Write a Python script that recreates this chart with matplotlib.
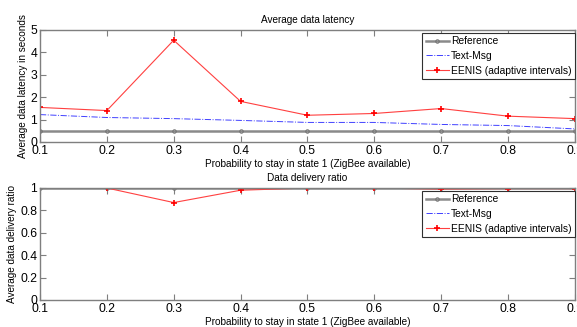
import matplotlib
matplotlib.use("Agg")
import matplotlib.pyplot as plt

plt.rcParams["font.family"] = ["Liberation Sans", "DejaVu Sans"]

prob = [0.1, 0.2, 0.3, 0.4, 0.5, 0.6, 0.7, 0.8, 0.9]

lat_reference = [0.5, 0.5, 0.5, 0.5, 0.5, 0.5, 0.5, 0.5, 0.5]
lat_textmsg = [1.22, 1.09, 1.04, 0.96, 0.87, 0.87, 0.78, 0.73, 0.58]
lat_eenis = [1.54, 1.40, 4.54, 1.81, 1.19, 1.27, 1.49, 1.15, 1.04]

ddr_reference = [1, 1, 1, 1, 1, 1, 1, 1, 1]
ddr_textmsg = [1, 1, 1, 1, 1, 1, 1, 1, 1]
ddr_eenis = [1.0, 1.0, 0.87, 0.98, 1.0, 1.0, 0.99, 0.995, 0.995]

xlabel = "Probability to stay in state 1 (ZigBee available)"
frame_col = "#7f7f7f"


def draw(ax, ref, txt, een, title, ylabel, yticks):
    ax.plot(prob, ref, color="#8a8a8a", lw=1.8, marker="o", ms=2.5,
            mfc="none", mec="#707070", mew=0.7, label="Reference")
    ax.plot(prob, txt, color="#4040ff", lw=0.7, ls="-.", label="Text-Msg")
    ax.plot(prob, een, color="#ff4040", lw=0.8, marker="+", ms=4,
            mew=1.2, mec="#ff0000", label="EENIS (adaptive intervals)")
    ax.set_xlim(0.1, 0.9)
    ax.set_ylim(yticks[0], yticks[-1])
    ax.set_xticks(prob)
    ax.set_xticklabels([f"{p:g}" for p in prob])
    ax.set_yticks(yticks)
    ax.set_yticklabels([f"{t:g}" for t in yticks])
    ax.tick_params(direction="in", top=True, right=True, labelsize=8.7,
                   length=4, color=frame_col, pad=2)
    for s in ax.spines.values():
        s.set_color(frame_col)
        s.set_linewidth(1.0)
    ax.set_title(title, fontsize=7.2, pad=5)
    ax.set_xlabel(xlabel, fontsize=7.2, labelpad=1.5)
    ax.set_ylabel(ylabel, fontsize=7.2, labelpad=2)
    leg = ax.legend(loc="upper right", bbox_to_anchor=(1.0, 0.975),
                    fontsize=7.4, fancybox=False, framealpha=1,
                    edgecolor="#303030", borderaxespad=0,
                    handlelength=2.2, handletextpad=0.2, borderpad=0.35,
                    labelspacing=0.45)
    leg.get_frame().set_linewidth(0.8)


fig = plt.figure(figsize=(5.77, 3.27), dpi=100)
ax1 = fig.add_axes([0.0693, 0.566, 0.927, 0.3425])
ax2 = fig.add_axes([0.0693, 0.0826, 0.927, 0.3425])

draw(ax1, lat_reference, lat_textmsg, lat_eenis, "Average data latency",
     "Average data latency in seconds", [0, 1, 2, 3, 4, 5])
draw(ax2, ddr_reference, ddr_textmsg, ddr_eenis, "Data delivery ratio",
     "Average data delivery ratio", [0, 0.2, 0.4, 0.6, 0.8, 1])

fig.savefig("out.png", dpi=100)
